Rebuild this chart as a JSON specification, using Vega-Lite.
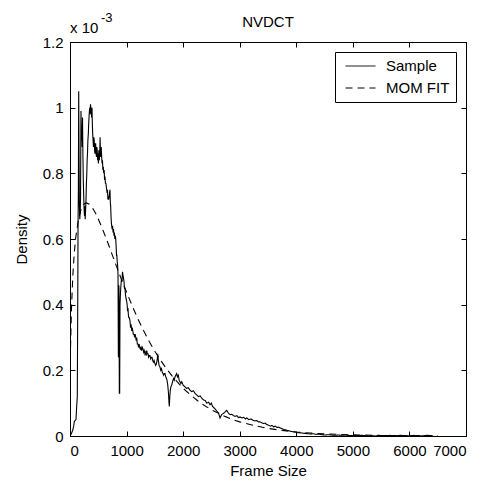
{
  "$schema": "https://vega.github.io/schema/vega-lite/v6.json",
  "autosize": {"type": "none"},
  "padding": {"left": 70, "top": 42, "right": 24, "bottom": 50},
  "width": 396,
  "height": 394,
  "background": "white",
  "config": {
    "view": {"stroke": "black", "strokeWidth": 1},
    "axis": {"labelFont": "Liberation Sans", "titleFont": "Liberation Sans", "labelFontSize": 15, "titleFontSize": 15, "titleFontWeight": "normal", "labelColor": "black", "titleColor": "black", "domainColor": "black", "tickColor": "black", "grid": false, "tickSize": -5, "labelPadding": 12}
  },
  "datasets": {
    "curves": [
      {"series":"Sample","frame":0,"density":0},
      {"series":"Sample","frame":18,"density":0.005},
      {"series":"Sample","frame":35,"density":0.012},
      {"series":"Sample","frame":50,"density":0.018},
      {"series":"Sample","frame":65,"density":0.03},
      {"series":"Sample","frame":76,"density":0.044},
      {"series":"Sample","frame":95,"density":0.048},
      {"series":"Sample","frame":106,"density":0.05},
      {"series":"Sample","frame":118,"density":0.09},
      {"series":"Sample","frame":129,"density":0.12},
      {"series":"Sample","frame":134,"density":0.3},
      {"series":"Sample","frame":138,"density":0.45},
      {"series":"Sample","frame":142,"density":0.64},
      {"series":"Sample","frame":148,"density":0.75},
      {"series":"Sample","frame":154,"density":1.05},
      {"series":"Sample","frame":160,"density":0.85},
      {"series":"Sample","frame":166,"density":0.7},
      {"series":"Sample","frame":173,"density":0.66},
      {"series":"Sample","frame":180,"density":0.68},
      {"series":"Sample","frame":186,"density":0.72},
      {"series":"Sample","frame":194,"density":0.99},
      {"series":"Sample","frame":202,"density":0.9},
      {"series":"Sample","frame":209,"density":0.93},
      {"series":"Sample","frame":215,"density":0.88},
      {"series":"Sample","frame":221,"density":0.97},
      {"series":"Sample","frame":228,"density":0.86},
      {"series":"Sample","frame":235,"density":0.78},
      {"series":"Sample","frame":244,"density":0.72},
      {"series":"Sample","frame":250,"density":0.69},
      {"series":"Sample","frame":256,"density":0.67},
      {"series":"Sample","frame":262,"density":0.7},
      {"series":"Sample","frame":269,"density":0.66},
      {"series":"Sample","frame":276,"density":0.69},
      {"series":"Sample","frame":283,"density":0.72},
      {"series":"Sample","frame":290,"density":0.77},
      {"series":"Sample","frame":297,"density":0.8},
      {"series":"Sample","frame":303,"density":0.84},
      {"series":"Sample","frame":309,"density":0.86},
      {"series":"Sample","frame":316,"density":0.9},
      {"series":"Sample","frame":324,"density":0.92},
      {"series":"Sample","frame":330,"density":0.95},
      {"series":"Sample","frame":336,"density":0.97},
      {"series":"Sample","frame":343,"density":0.99},
      {"series":"Sample","frame":350,"density":1.0},
      {"series":"Sample","frame":356,"density":0.98},
      {"series":"Sample","frame":362,"density":1.01},
      {"series":"Sample","frame":368,"density":1.0},
      {"series":"Sample","frame":375,"density":0.99},
      {"series":"Sample","frame":382,"density":0.97},
      {"series":"Sample","frame":389,"density":1.0},
      {"series":"Sample","frame":395,"density":0.95},
      {"series":"Sample","frame":401,"density":0.92},
      {"series":"Sample","frame":408,"density":0.9},
      {"series":"Sample","frame":415,"density":0.88},
      {"series":"Sample","frame":421,"density":0.91},
      {"series":"Sample","frame":428,"density":0.9},
      {"series":"Sample","frame":435,"density":0.87},
      {"series":"Sample","frame":442,"density":0.86},
      {"series":"Sample","frame":448,"density":0.89},
      {"series":"Sample","frame":454,"density":0.89},
      {"series":"Sample","frame":461,"density":0.86},
      {"series":"Sample","frame":469,"density":0.85},
      {"series":"Sample","frame":475,"density":0.88},
      {"series":"Sample","frame":481,"density":0.87},
      {"series":"Sample","frame":488,"density":0.84},
      {"series":"Sample","frame":495,"density":0.86},
      {"series":"Sample","frame":502,"density":0.83},
      {"series":"Sample","frame":510,"density":0.87},
      {"series":"Sample","frame":518,"density":0.84},
      {"series":"Sample","frame":525,"density":0.86},
      {"series":"Sample","frame":532,"density":0.91},
      {"series":"Sample","frame":538,"density":0.86},
      {"series":"Sample","frame":545,"density":0.85},
      {"series":"Sample","frame":552,"density":0.88},
      {"series":"Sample","frame":560,"density":0.85},
      {"series":"Sample","frame":567,"density":0.83},
      {"series":"Sample","frame":574,"density":0.84},
      {"series":"Sample","frame":581,"density":0.81},
      {"series":"Sample","frame":589,"density":0.82},
      {"series":"Sample","frame":596,"density":0.8},
      {"series":"Sample","frame":604,"density":0.81},
      {"series":"Sample","frame":611,"density":0.78},
      {"series":"Sample","frame":619,"density":0.79},
      {"series":"Sample","frame":626,"density":0.77},
      {"series":"Sample","frame":634,"density":0.77},
      {"series":"Sample","frame":641,"density":0.76},
      {"series":"Sample","frame":649,"density":0.75},
      {"series":"Sample","frame":656,"density":0.74},
      {"series":"Sample","frame":663,"density":0.75},
      {"series":"Sample","frame":670,"density":0.72},
      {"series":"Sample","frame":677,"density":0.73},
      {"series":"Sample","frame":684,"density":0.72},
      {"series":"Sample","frame":692,"density":0.73},
      {"series":"Sample","frame":699,"density":0.74},
      {"series":"Sample","frame":707,"density":0.75},
      {"series":"Sample","frame":713,"density":0.71},
      {"series":"Sample","frame":719,"density":0.7},
      {"series":"Sample","frame":725,"density":0.67},
      {"series":"Sample","frame":731,"density":0.65},
      {"series":"Sample","frame":737,"density":0.64},
      {"series":"Sample","frame":745,"density":0.63},
      {"series":"Sample","frame":753,"density":0.64},
      {"series":"Sample","frame":761,"density":0.62},
      {"series":"Sample","frame":769,"density":0.63},
      {"series":"Sample","frame":777,"density":0.61},
      {"series":"Sample","frame":785,"density":0.62},
      {"series":"Sample","frame":793,"density":0.6},
      {"series":"Sample","frame":801,"density":0.61},
      {"series":"Sample","frame":808,"density":0.6},
      {"series":"Sample","frame":815,"density":0.58},
      {"series":"Sample","frame":822,"density":0.55},
      {"series":"Sample","frame":828,"density":0.55},
      {"series":"Sample","frame":835,"density":0.53},
      {"series":"Sample","frame":842,"density":0.52},
      {"series":"Sample","frame":849,"density":0.49},
      {"series":"Sample","frame":855,"density":0.24},
      {"series":"Sample","frame":860,"density":0.46},
      {"series":"Sample","frame":866,"density":0.45},
      {"series":"Sample","frame":872,"density":0.13},
      {"series":"Sample","frame":878,"density":0.13},
      {"series":"Sample","frame":884,"density":0.4},
      {"series":"Sample","frame":893,"density":0.44},
      {"series":"Sample","frame":901,"density":0.46},
      {"series":"Sample","frame":910,"density":0.48},
      {"series":"Sample","frame":919,"density":0.47},
      {"series":"Sample","frame":928,"density":0.5},
      {"series":"Sample","frame":937,"density":0.49},
      {"series":"Sample","frame":946,"density":0.48},
      {"series":"Sample","frame":955,"density":0.47},
      {"series":"Sample","frame":963,"density":0.45},
      {"series":"Sample","frame":972,"density":0.45},
      {"series":"Sample","frame":981,"density":0.43},
      {"series":"Sample","frame":990,"density":0.42},
      {"series":"Sample","frame":1002,"density":0.41},
      {"series":"Sample","frame":1010,"density":0.4},
      {"series":"Sample","frame":1018,"density":0.38},
      {"series":"Sample","frame":1025,"density":0.39},
      {"series":"Sample","frame":1031,"density":0.37},
      {"series":"Sample","frame":1040,"density":0.36},
      {"series":"Sample","frame":1050,"density":0.36},
      {"series":"Sample","frame":1061,"density":0.35},
      {"series":"Sample","frame":1070,"density":0.33},
      {"series":"Sample","frame":1080,"density":0.34},
      {"series":"Sample","frame":1091,"density":0.32},
      {"series":"Sample","frame":1100,"density":0.33},
      {"series":"Sample","frame":1110,"density":0.32},
      {"series":"Sample","frame":1120,"density":0.31},
      {"series":"Sample","frame":1132,"density":0.31},
      {"series":"Sample","frame":1142,"density":0.3},
      {"series":"Sample","frame":1152,"density":0.31},
      {"series":"Sample","frame":1162,"density":0.3},
      {"series":"Sample","frame":1171,"density":0.29},
      {"series":"Sample","frame":1179,"density":0.3},
      {"series":"Sample","frame":1190,"density":0.28},
      {"series":"Sample","frame":1202,"density":0.28},
      {"series":"Sample","frame":1212,"density":0.27},
      {"series":"Sample","frame":1222,"density":0.28},
      {"series":"Sample","frame":1232,"density":0.27},
      {"series":"Sample","frame":1244,"density":0.265},
      {"series":"Sample","frame":1255,"density":0.27},
      {"series":"Sample","frame":1266,"density":0.26},
      {"series":"Sample","frame":1278,"density":0.27},
      {"series":"Sample","frame":1291,"density":0.265},
      {"series":"Sample","frame":1302,"density":0.255},
      {"series":"Sample","frame":1313,"density":0.26},
      {"series":"Sample","frame":1324,"density":0.25},
      {"series":"Sample","frame":1335,"density":0.255},
      {"series":"Sample","frame":1346,"density":0.245},
      {"series":"Sample","frame":1357,"density":0.26},
      {"series":"Sample","frame":1368,"density":0.25},
      {"series":"Sample","frame":1379,"density":0.25},
      {"series":"Sample","frame":1390,"density":0.24},
      {"series":"Sample","frame":1402,"density":0.245},
      {"series":"Sample","frame":1414,"density":0.245},
      {"series":"Sample","frame":1426,"density":0.235},
      {"series":"Sample","frame":1438,"density":0.24},
      {"series":"Sample","frame":1450,"density":0.24},
      {"series":"Sample","frame":1462,"density":0.23},
      {"series":"Sample","frame":1474,"density":0.225},
      {"series":"Sample","frame":1486,"density":0.23},
      {"series":"Sample","frame":1503,"density":0.22},
      {"series":"Sample","frame":1515,"density":0.215},
      {"series":"Sample","frame":1527,"density":0.22},
      {"series":"Sample","frame":1540,"density":0.23},
      {"series":"Sample","frame":1551,"density":0.25},
      {"series":"Sample","frame":1562,"density":0.23},
      {"series":"Sample","frame":1575,"density":0.215},
      {"series":"Sample","frame":1591,"density":0.21},
      {"series":"Sample","frame":1604,"density":0.2},
      {"series":"Sample","frame":1617,"density":0.205},
      {"series":"Sample","frame":1630,"density":0.195},
      {"series":"Sample","frame":1644,"density":0.19},
      {"series":"Sample","frame":1656,"density":0.185},
      {"series":"Sample","frame":1668,"density":0.19},
      {"series":"Sample","frame":1680,"density":0.19},
      {"series":"Sample","frame":1693,"density":0.18},
      {"series":"Sample","frame":1705,"density":0.175},
      {"series":"Sample","frame":1715,"density":0.17},
      {"series":"Sample","frame":1728,"density":0.155},
      {"series":"Sample","frame":1741,"density":0.13},
      {"series":"Sample","frame":1750,"density":0.1},
      {"series":"Sample","frame":1756,"density":0.09},
      {"series":"Sample","frame":1764,"density":0.12},
      {"series":"Sample","frame":1773,"density":0.14},
      {"series":"Sample","frame":1785,"density":0.15},
      {"series":"Sample","frame":1798,"density":0.155},
      {"series":"Sample","frame":1812,"density":0.165},
      {"series":"Sample","frame":1830,"density":0.175},
      {"series":"Sample","frame":1843,"density":0.17},
      {"series":"Sample","frame":1856,"density":0.18},
      {"series":"Sample","frame":1870,"density":0.185},
      {"series":"Sample","frame":1886,"density":0.19},
      {"series":"Sample","frame":1900,"density":0.18},
      {"series":"Sample","frame":1915,"density":0.185},
      {"series":"Sample","frame":1930,"density":0.17},
      {"series":"Sample","frame":1945,"density":0.165},
      {"series":"Sample","frame":1960,"density":0.16},
      {"series":"Sample","frame":1975,"density":0.165},
      {"series":"Sample","frame":2000,"density":0.155},
      {"series":"Sample","frame":2030,"density":0.15},
      {"series":"Sample","frame":2060,"density":0.145},
      {"series":"Sample","frame":2090,"density":0.147},
      {"series":"Sample","frame":2120,"density":0.14},
      {"series":"Sample","frame":2150,"density":0.135},
      {"series":"Sample","frame":2180,"density":0.138},
      {"series":"Sample","frame":2210,"density":0.13},
      {"series":"Sample","frame":2240,"density":0.125},
      {"series":"Sample","frame":2270,"density":0.12},
      {"series":"Sample","frame":2300,"density":0.122},
      {"series":"Sample","frame":2330,"density":0.115},
      {"series":"Sample","frame":2360,"density":0.11},
      {"series":"Sample","frame":2390,"density":0.108},
      {"series":"Sample","frame":2420,"density":0.1},
      {"series":"Sample","frame":2450,"density":0.103},
      {"series":"Sample","frame":2475,"density":0.095},
      {"series":"Sample","frame":2500,"density":0.1},
      {"series":"Sample","frame":2520,"density":0.09},
      {"series":"Sample","frame":2550,"density":0.085},
      {"series":"Sample","frame":2575,"density":0.08},
      {"series":"Sample","frame":2600,"density":0.075},
      {"series":"Sample","frame":2625,"density":0.07},
      {"series":"Sample","frame":2652,"density":0.055},
      {"series":"Sample","frame":2680,"density":0.065},
      {"series":"Sample","frame":2705,"density":0.068},
      {"series":"Sample","frame":2735,"density":0.072},
      {"series":"Sample","frame":2770,"density":0.078},
      {"series":"Sample","frame":2800,"density":0.07},
      {"series":"Sample","frame":2829,"density":0.065},
      {"series":"Sample","frame":2860,"density":0.066},
      {"series":"Sample","frame":2890,"density":0.062},
      {"series":"Sample","frame":2917,"density":0.06},
      {"series":"Sample","frame":2950,"density":0.062},
      {"series":"Sample","frame":2980,"density":0.056},
      {"series":"Sample","frame":3006,"density":0.058},
      {"series":"Sample","frame":3040,"density":0.055},
      {"series":"Sample","frame":3070,"density":0.057},
      {"series":"Sample","frame":3100,"density":0.052},
      {"series":"Sample","frame":3124,"density":0.055},
      {"series":"Sample","frame":3160,"density":0.05},
      {"series":"Sample","frame":3200,"density":0.052},
      {"series":"Sample","frame":3235,"density":0.048},
      {"series":"Sample","frame":3270,"density":0.046},
      {"series":"Sample","frame":3300,"density":0.047},
      {"series":"Sample","frame":3330,"density":0.043},
      {"series":"Sample","frame":3359,"density":0.043},
      {"series":"Sample","frame":3390,"density":0.04},
      {"series":"Sample","frame":3420,"density":0.038},
      {"series":"Sample","frame":3450,"density":0.039},
      {"series":"Sample","frame":3478,"density":0.035},
      {"series":"Sample","frame":3510,"density":0.033},
      {"series":"Sample","frame":3540,"density":0.03},
      {"series":"Sample","frame":3570,"density":0.032},
      {"series":"Sample","frame":3600,"density":0.028},
      {"series":"Sample","frame":3630,"density":0.03},
      {"series":"Sample","frame":3660,"density":0.026},
      {"series":"Sample","frame":3690,"density":0.027},
      {"series":"Sample","frame":3720,"density":0.024},
      {"series":"Sample","frame":3750,"density":0.022},
      {"series":"Sample","frame":3780,"density":0.02},
      {"series":"Sample","frame":3810,"density":0.019},
      {"series":"Sample","frame":3840,"density":0.017},
      {"series":"Sample","frame":3870,"density":0.016},
      {"series":"Sample","frame":3900,"density":0.014},
      {"series":"Sample","frame":3940,"density":0.013},
      {"series":"Sample","frame":3980,"density":0.012},
      {"series":"Sample","frame":4020,"density":0.01},
      {"series":"Sample","frame":4060,"density":0.01},
      {"series":"Sample","frame":4100,"density":0.009},
      {"series":"Sample","frame":4150,"density":0.008},
      {"series":"Sample","frame":4200,"density":0.007},
      {"series":"Sample","frame":4250,"density":0.006},
      {"series":"Sample","frame":4300,"density":0.007},
      {"series":"Sample","frame":4350,"density":0.005},
      {"series":"Sample","frame":4400,"density":0.006},
      {"series":"Sample","frame":4450,"density":0.004},
      {"series":"Sample","frame":4500,"density":0.003},
      {"series":"Sample","frame":4560,"density":0.004},
      {"series":"Sample","frame":4620,"density":0.003},
      {"series":"Sample","frame":4680,"density":0.002},
      {"series":"Sample","frame":4740,"density":0.003},
      {"series":"Sample","frame":4800,"density":0.002},
      {"series":"Sample","frame":4860,"density":0.003},
      {"series":"Sample","frame":4920,"density":0.002},
      {"series":"Sample","frame":4980,"density":0.001},
      {"series":"Sample","frame":5040,"density":0.002},
      {"series":"Sample","frame":5100,"density":0.001},
      {"series":"Sample","frame":5160,"density":0.002},
      {"series":"Sample","frame":5220,"density":0.001},
      {"series":"Sample","frame":5280,"density":0.0},
      {"series":"Sample","frame":5340,"density":0.001},
      {"series":"Sample","frame":5400,"density":0.0},
      {"series":"Sample","frame":5460,"density":0.002},
      {"series":"Sample","frame":5520,"density":0.001},
      {"series":"Sample","frame":5600,"density":0.001},
      {"series":"Sample","frame":5660,"density":0.002},
      {"series":"Sample","frame":5720,"density":0.0},
      {"series":"Sample","frame":5780,"density":0.001},
      {"series":"Sample","frame":5840,"density":0.002},
      {"series":"Sample","frame":5900,"density":0.001},
      {"series":"Sample","frame":5960,"density":0.0},
      {"series":"Sample","frame":6020,"density":0.001},
      {"series":"Sample","frame":6080,"density":0.002},
      {"series":"Sample","frame":6140,"density":0.001},
      {"series":"Sample","frame":6200,"density":0.0},
      {"series":"Sample","frame":6260,"density":0.001},
      {"series":"Sample","frame":6320,"density":0.002},
      {"series":"Sample","frame":6380,"density":0.001},
      {"series":"Sample","frame":6420,"density":0.0},
      {"series":"MOM FIT","frame":3,"density":0.16},
      {"series":"MOM FIT","frame":10,"density":0.272},
      {"series":"MOM FIT","frame":25,"density":0.384},
      {"series":"MOM FIT","frame":50,"density":0.489},
      {"series":"MOM FIT","frame":75,"density":0.556},
      {"series":"MOM FIT","frame":100,"density":0.603},
      {"series":"MOM FIT","frame":150,"density":0.661},
      {"series":"MOM FIT","frame":200,"density":0.693},
      {"series":"MOM FIT","frame":250,"density":0.707},
      {"series":"MOM FIT","frame":290,"density":0.71},
      {"series":"MOM FIT","frame":350,"density":0.705},
      {"series":"MOM FIT","frame":400,"density":0.694},
      {"series":"MOM FIT","frame":450,"density":0.679},
      {"series":"MOM FIT","frame":500,"density":0.661},
      {"series":"MOM FIT","frame":550,"density":0.641},
      {"series":"MOM FIT","frame":600,"density":0.619},
      {"series":"MOM FIT","frame":650,"density":0.597},
      {"series":"MOM FIT","frame":700,"density":0.574},
      {"series":"MOM FIT","frame":750,"density":0.55},
      {"series":"MOM FIT","frame":800,"density":0.527},
      {"series":"MOM FIT","frame":850,"density":0.504},
      {"series":"MOM FIT","frame":900,"density":0.481},
      {"series":"MOM FIT","frame":950,"density":0.459},
      {"series":"MOM FIT","frame":1000,"density":0.438},
      {"series":"MOM FIT","frame":1100,"density":0.396},
      {"series":"MOM FIT","frame":1200,"density":0.357},
      {"series":"MOM FIT","frame":1300,"density":0.321},
      {"series":"MOM FIT","frame":1400,"density":0.288},
      {"series":"MOM FIT","frame":1500,"density":0.258},
      {"series":"MOM FIT","frame":1600,"density":0.231},
      {"series":"MOM FIT","frame":1700,"density":0.206},
      {"series":"MOM FIT","frame":1800,"density":0.184},
      {"series":"MOM FIT","frame":1900,"density":0.164},
      {"series":"MOM FIT","frame":2000,"density":0.145},
      {"series":"MOM FIT","frame":2125,"density":0.126},
      {"series":"MOM FIT","frame":2250,"density":0.108},
      {"series":"MOM FIT","frame":2375,"density":0.093},
      {"series":"MOM FIT","frame":2500,"density":0.08},
      {"series":"MOM FIT","frame":2625,"density":0.069},
      {"series":"MOM FIT","frame":2750,"density":0.059},
      {"series":"MOM FIT","frame":2875,"density":0.05},
      {"series":"MOM FIT","frame":3000,"density":0.043},
      {"series":"MOM FIT","frame":3250,"density":0.032},
      {"series":"MOM FIT","frame":3500,"density":0.023},
      {"series":"MOM FIT","frame":3750,"density":0.017},
      {"series":"MOM FIT","frame":4000,"density":0.012},
      {"series":"MOM FIT","frame":4250,"density":0.009},
      {"series":"MOM FIT","frame":4500,"density":0.0064},
      {"series":"MOM FIT","frame":5000,"density":0.0033},
      {"series":"MOM FIT","frame":5500,"density":0.0017},
      {"series":"MOM FIT","frame":6000,"density":0.0009},
      {"series":"MOM FIT","frame":6500,"density":0.0005}
    ],
    "one": [{}]
  },
  "resolve": {"axis": {"x": "independent", "y": "independent"}},
  "layer": [
    {
      "data": {"name": "curves"},
      "mark": {"type": "line", "strokeWidth": 1.1, "color": "black", "clip": true},
      "encoding": {
        "x": {"field": "frame", "type": "quantitative", "scale": {"domain": [0, 7000], "nice": false},
              "axis": {"orient": "bottom", "title": "Frame Size", "values": [0,1000,2000,3000,4000,5000,6000,7000], "format": "d", "titlePadding": 5}},
        "y": {"field": "density", "type": "quantitative", "scale": {"domain": [0, 1.2], "nice": false, "zero": true},
              "axis": {"orient": "left", "title": "Density", "values": [0,0.2,0.4,0.6,0.8,1,1.2], "format": "~g", "titlePadding": 13}},
        "strokeDash": {"field": "series", "type": "nominal",
          "scale": {"domain": ["Sample", "MOM FIT"], "range": [[1, 0], [7, 5]]},
          "legend": {"title": null, "orient": "top-right", "offset": 10, "strokeColor": "black", "fillColor": "white", "padding": 6, "cornerRadius": 0,
                     "symbolType": "stroke", "symbolSize": 900, "symbolStrokeWidth": 1, "symbolStrokeColor": "black", "symbolOffset": 4, "clipHeight": 16, "rowPadding": 6,
                     "labelFont": "Liberation Sans", "labelFontSize": 15, "labelColor": "black", "labelOffset": 10}},
        "detail": {"field": "series"}
      }
    },
    {
      "data": {"name": "curves"},
      "mark": {"type": "point", "opacity": 0},
      "encoding": {
        "x": {"field": "frame", "type": "quantitative", "axis": {"orient": "top", "title": null, "labels": false, "values": [0,1000,2000,3000,4000,5000,6000,7000]}},
        "y": {"field": "density", "type": "quantitative", "axis": {"orient": "right", "title": null, "labels": false, "values": [0,0.2,0.4,0.6,0.8,1,1.2]}}
      }
    },
    {
      "data": {"name": "one"},
      "mark": {"type": "text", "text": "NVDCT", "align": "center", "baseline": "alphabetic", "dy": -15, "font": "Liberation Sans", "fontSize": 15, "color": "black"},
      "encoding": {"x": {"datum": 3500, "type": "quantitative", "axis": null}, "y": {"datum": 1.2, "type": "quantitative", "axis": null}}
    },
    {
      "data": {"name": "one"},
      "mark": {"type": "text", "text": "x 10", "align": "left", "baseline": "alphabetic", "dy": -9, "font": "Liberation Sans", "fontSize": 15, "color": "black"},
      "encoding": {"x": {"datum": 0, "type": "quantitative", "axis": null}, "y": {"datum": 1.2, "type": "quantitative", "axis": null}}
    },
    {
      "data": {"name": "one"},
      "mark": {"type": "text", "text": "-3", "align": "left", "baseline": "alphabetic", "dx": 31, "dy": -20, "font": "Liberation Sans", "fontSize": 13, "color": "black"},
      "encoding": {"x": {"datum": 0, "type": "quantitative", "axis": null}, "y": {"datum": 1.2, "type": "quantitative", "axis": null}}
    }
  ]
}
